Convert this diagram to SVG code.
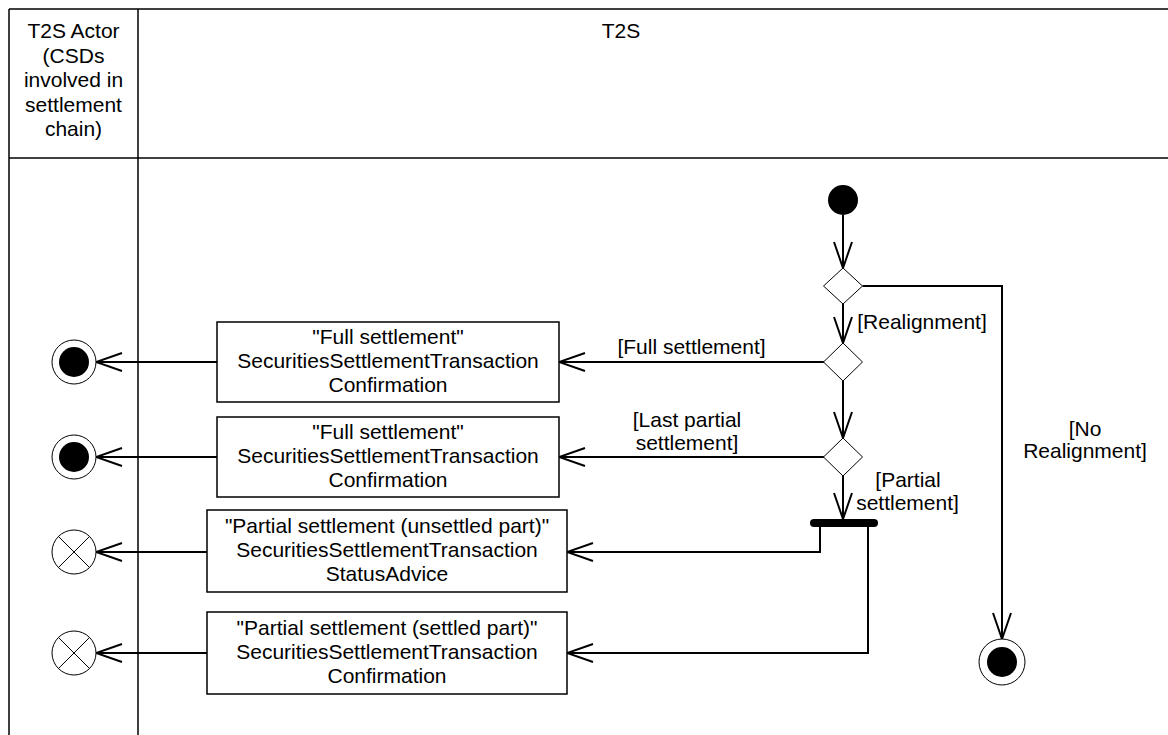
<svg xmlns="http://www.w3.org/2000/svg" width="1168" height="735" viewBox="0 0 1168 735">
<defs>
<marker id="open" viewBox="0 0 30 20" refX="28" refY="10" markerWidth="30" markerHeight="20" markerUnits="userSpaceOnUse" orient="auto">
<path d="M2,1 L28,10 L2,19" fill="none" stroke="#000" stroke-width="2"/>
</marker>
<style>
text{font-family:"Liberation Sans",Arial,sans-serif;font-size:21px;fill:#000;text-anchor:middle}
.frame{fill:none;stroke:#000;stroke-width:1.5}
.box{fill:#fff;stroke:#000;stroke-width:1.5}
.dia{fill:#fff;stroke:#000;stroke-width:1}
.ring{fill:#fff;stroke:#000;stroke-width:1}
.c{fill:none;stroke:#000;stroke-width:2}
.ca{fill:none;stroke:#000;stroke-width:2;marker-end:url(#open)}
</style>
</defs>
<rect width="1168" height="735" fill="#fff"/>
<g id="swimlanes">
<line class="frame" x1="9" y1="9" x2="1168" y2="9"/>
<line class="frame" x1="9" y1="158" x2="1168" y2="158"/>
<line class="frame" x1="9" y1="9" x2="9" y2="735"/>
<line class="frame" x1="138" y1="9" x2="138" y2="735"/>
<text x="73.5" y="38">T2S Actor</text>
<text x="73.5" y="62.5">(CSDs</text>
<text x="73.5" y="87">involved in</text>
<text x="73.5" y="111.5">settlement</text>
<text x="73.5" y="136">chain)</text>
<text x="621" y="38">T2S</text>
</g>
<g id="connectors">
<line class="ca" x1="843" y1="215" x2="843" y2="268"/>
<line class="ca" x1="843" y1="304" x2="843" y2="343"/>
<line class="ca" x1="843" y1="381" x2="843" y2="438"/>
<line class="ca" x1="843" y1="476" x2="843" y2="519"/>
<polyline class="ca" points="862.5,286 1002,286 1002,639"/>
<line class="ca" x1="824" y1="362" x2="559" y2="362"/>
<line class="ca" x1="824" y1="457" x2="559" y2="457"/>
<polyline class="ca" points="820,523 820,552 567,552"/>
<polyline class="ca" points="868,523 868,653 567,653"/>
<line class="ca" x1="217" y1="362" x2="96" y2="362"/>
<line class="ca" x1="217" y1="457" x2="96" y2="457"/>
<line class="ca" x1="207" y1="552" x2="96" y2="552"/>
<line class="ca" x1="207" y1="653" x2="96" y2="653"/>
<text x="691.5" y="354">[Full settlement]</text>
<text x="687" y="427">[Last partial</text>
<text x="687" y="450">settlement]</text>
<text x="922" y="329">[Realignment]</text>
<text x="908" y="487">[Partial</text>
<text x="907.5" y="510">settlement]</text>
<text x="1085" y="436">[No</text>
<text x="1085" y="458">Realignment]</text>
</g>
<g id="start"><circle cx="843" cy="200" r="15" fill="#000"/></g>
<g id="decision1"><polygon class="dia" points="843,268 862.5,286 843,304 823.5,286"/></g>
<g id="decision2"><polygon class="dia" points="843,343 862.5,362 843,381 823.5,362"/></g>
<g id="decision3"><polygon class="dia" points="843,438 862.5,457 843,476 823.5,457"/></g>
<g id="fork"><line x1="814" y1="523" x2="874" y2="523" stroke="#000" stroke-width="8" stroke-linecap="round"/></g>
<g id="box1">
<rect class="box" x="217" y="322" width="342" height="80"/>
<text x="388" y="344">"Full settlement"</text>
<text x="388" y="368">SecuritiesSettlementTransaction</text>
<text x="388" y="392">Confirmation</text>
</g>
<g id="box2">
<rect class="box" x="217" y="417" width="342" height="80"/>
<text x="388" y="439">"Full settlement"</text>
<text x="388" y="463">SecuritiesSettlementTransaction</text>
<text x="388" y="487">Confirmation</text>
</g>
<g id="box3">
<rect class="box" x="207" y="510" width="360" height="82"/>
<text x="387" y="533">"Partial settlement (unsettled part)"</text>
<text x="387" y="557">SecuritiesSettlementTransaction</text>
<text x="387" y="581">StatusAdvice</text>
</g>
<g id="box4">
<rect class="box" x="207" y="612" width="360" height="82"/>
<text x="387" y="635">"Partial settlement (settled part)"</text>
<text x="387" y="659">SecuritiesSettlementTransaction</text>
<text x="387" y="683">Confirmation</text>
</g>
<g id="end1"><circle class="ring" cx="74" cy="362" r="22"/><circle cx="74" cy="362" r="15" fill="#000"/></g>
<g id="end2"><circle class="ring" cx="74" cy="457" r="22"/><circle cx="74" cy="457" r="15" fill="#000"/></g>
<g id="flowfinal1"><circle class="ring" cx="74" cy="552" r="22"/><path d="M58.4,536.4 L89.6,567.6 M89.6,536.4 L58.4,567.6" stroke="#000" stroke-width="1" fill="none"/></g>
<g id="flowfinal2"><circle class="ring" cx="74" cy="653" r="22"/><path d="M58.4,637.4 L89.6,668.6 M89.6,637.4 L58.4,668.6" stroke="#000" stroke-width="1" fill="none"/></g>
<g id="end3"><circle class="ring" cx="1002" cy="662" r="23"/><circle cx="1002" cy="662" r="15" fill="#000"/></g>
</svg>
